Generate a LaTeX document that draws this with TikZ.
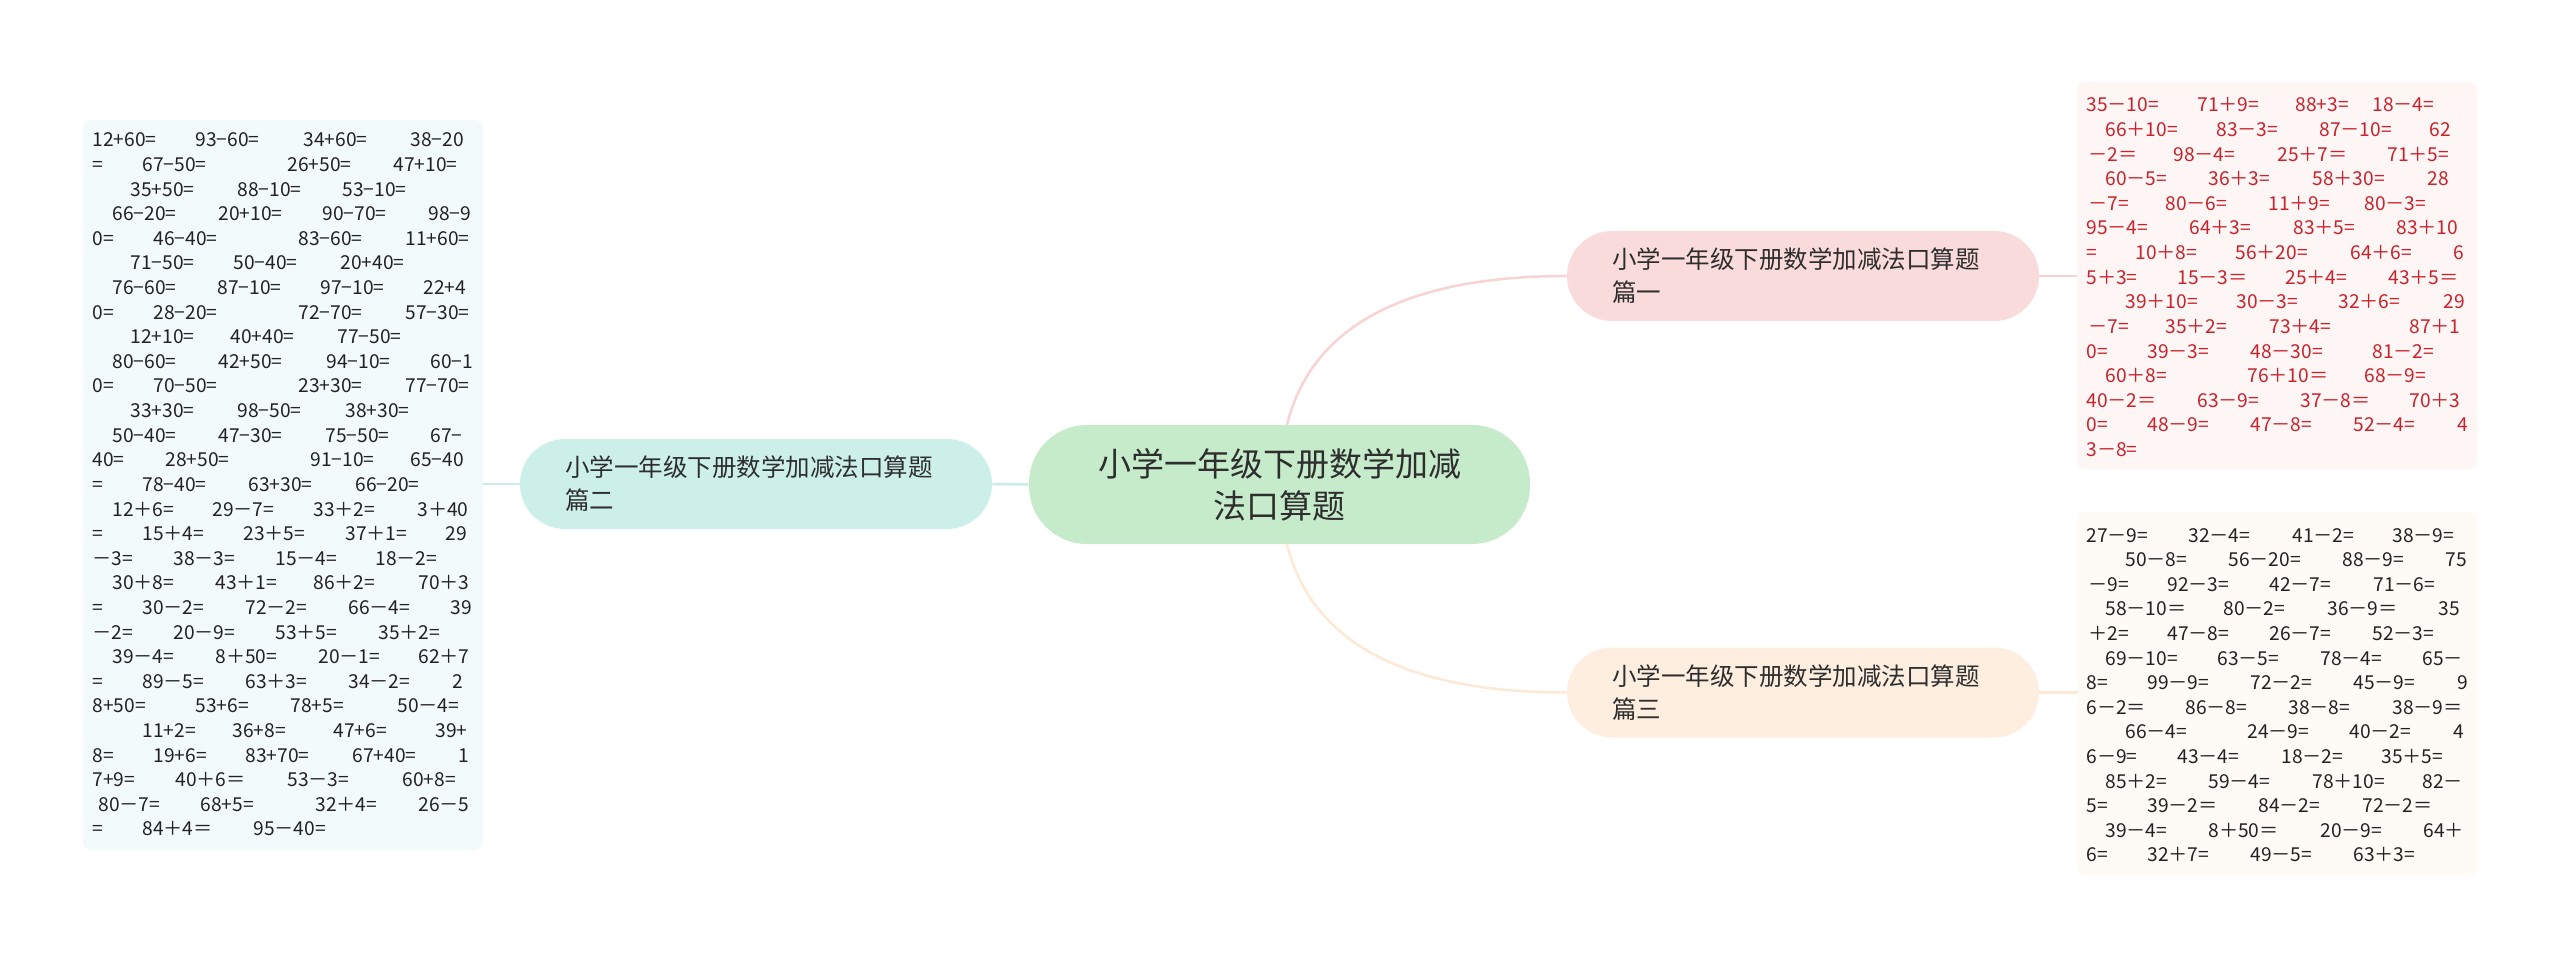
\documentclass[tikz,border=0pt]{standalone}
\usepackage{fontspec}
\setmainfont{Noto Sans CJK SC}
\newfontfamily\cjk{Noto Sans CJK SC}
\definecolor{cgreen}{HTML}{C6EBCB}
\definecolor{cteal}{HTML}{CDEFEA}
\definecolor{cpink}{HTML}{FADBDB}
\definecolor{cpeach}{HTML}{FDEEDF}
\definecolor{bteal}{HTML}{F3FAFB}
\definecolor{bpink}{HTML}{FEF5F5}
\definecolor{bpeach}{HTML}{FEFBF6}
\definecolor{lteal}{HTML}{C9EEE6}
\definecolor{lpink}{HTML}{F7D3D3}
\definecolor{lpeach}{HTML}{FDE9D5}
\definecolor{tred}{HTML}{C8232C}
\definecolor{tdark}{HTML}{222222}
\definecolor{ndark}{HTML}{2E2E2E}
\newcommand\tline[4]{%
  \foreach \xx/\tx [count=\k] in {#4} {%
    \node[tok, anchor=base west] (#1-#3-\k) at (\xx, {#2+(#3-1)*24.6}) {\tx};}}
\begin{document}
\begin{tikzpicture}[x=0.5pt, y=-0.5pt,
  tok/.style={inner sep=0pt, font=\cjk\fontsize{9.6}{11}\selectfont, text=tdark},
  rootnode/.style={fill=cgreen, rounded corners=29pt, minimum width=250.5pt, minimum height=59.5pt,
    align=center, text=ndark, font=\cjk\fontsize{16.5}{21}\selectfont, inner sep=0pt},
  branch/.style={rounded corners=22.5pt, minimum width=236pt, minimum height=45pt,
    text width=191pt, inner xsep=22.5pt, inner ysep=0pt, align=left, text=ndark,
    font=\cjk\fontsize{12.25}{16.5}\selectfont},
  tbox/.style={rounded corners=4pt, minimum width=200pt, inner sep=0pt},
  conn/.style={line width=1.25pt}
]
\fill[white] (0,0) rectangle (2560,957);
\useasboundingbox (0,0) rectangle (2560,957);

% text boxes
\node[tbox, fill=bteal, minimum height=365pt] (lbox) at (283,485) {};
\node[tbox, fill=bpink, minimum height=193.5pt] (tbox) at (2277,275.5) {};
\node[tbox, fill=bpeach, minimum height=182pt] (bbox) at (2277,694) {};

% main nodes
\node[rootnode] (root) at (1279.5,484.5) {小学一年级下册数学加减\\法口算题};
\node[branch, fill=cteal] (lnode) at (756,484) {小学一年级下册数学加减法口算题\\篇二};
\node[branch, fill=cpink] (tnode) at (1803,276) {小学一年级下册数学加减法口算题\\篇一};
\node[branch, fill=cpeach] (bnode) at (1803,692.5) {小学一年级下册数学加减法口算题\\篇三};

% connectors
\coordinate (rtop) at (1287,425);
\coordinate (rbot) at (1287,544);
\draw[conn, lteal] (root.west) -- (lnode.east);
\draw[conn, lteal] (lnode.west) -- (lnode.west -| lbox.east);
\draw[conn, lpink] (rtop) .. controls (1310,330) and (1400,276) .. (tnode.west);
\draw[conn, lpeach] (rbot) .. controls (1310,639) and (1400,692.5) .. (bnode.west);
\draw[conn, lpink] (tnode.east) -- (tnode.east -| tbox.west);
\draw[conn, lpeach] (bnode.east) -- (bnode.east -| bbox.west);

% left box text
\tline{L}{147}{1}{92/12+60=, 195/93−60=, 303/34+60=, 410/38−20}
\tline{L}{147}{2}{92/=, 142/67−50=, 287/26+50=, 393/47+10=}
\tline{L}{147}{3}{130/35+50=, 237/88−10=, 342/53−10=}
\tline{L}{147}{4}{112/66−20=, 218/20+10=, 322/90−70=, 428/98−9}
\tline{L}{147}{5}{92/0=, 153/46−40=, 298/83−60=, 405/11+60=}
\tline{L}{147}{6}{130/71−50=, 233/50−40=, 340/20+40=}
\tline{L}{147}{7}{112/76−60=, 217/87−10=, 320/97−10=, 423/22+4}
\tline{L}{147}{8}{92/0=, 153/28−20=, 298/72−70=, 405/57−30=}
\tline{L}{147}{9}{130/12+10=, 230/40+40=, 337/77−50=}
\tline{L}{147}{10}{112/80−60=, 218/42+50=, 326/94−10=, 430/60−1}
\tline{L}{147}{11}{92/0=, 153/70−50=, 298/23+30=, 405/77−70=}
\tline{L}{147}{12}{130/33+30=, 237/98−50=, 345/38+30=}
\tline{L}{147}{13}{112/50−40=, 218/47−30=, 325/75−50=, 430/67−}
\tline{L}{147}{14}{92/40=, 165/28+50=, 310/91−10=, 410/65−40}
\tline{L}{147}{15}{92/=, 142/78−40=, 248/63+30=, 355/66−20=}
\tline{L}{147}{16}{112/12＋6=, 212/29－7=, 313/33＋2=, 417/3＋40}
\tline{L}{147}{17}{92/=, 142/15＋4=, 243/23＋5=, 345/37＋1=, 445/29}
\tline{L}{147}{18}{92/－3=, 173/38－3=, 275/15－4=, 375/18－2=}
\tline{L}{147}{19}{112/30＋8=, 215/43＋1=, 313/86＋2=, 418/70＋3}
\tline{L}{147}{20}{92/=, 142/30－2=, 245/72－2=, 348/66－4=, 450/39}
\tline{L}{147}{21}{92/－2=, 173/20－9=, 275/53＋5=, 378/35＋2=}
\tline{L}{147}{22}{112/39－4=, 215/8＋50=, 318/20－1=, 418/62＋7}
\tline{L}{147}{23}{92/=, 142/89－5=, 245/63＋3=, 348/34－2=, 452/2}
\tline{L}{147}{24}{92/8+50=, 195/53+6=, 290/78+5=, 397/50－4=}
\tline{L}{147}{25}{142/11+2=, 232/36+8=, 333/47+6=, 435/39+}
\tline{L}{147}{26}{92/8=, 153/19+6=, 245/83+70=, 352/67+40=, 458/1}
\tline{L}{147}{27}{92/7+9=, 175/40＋6＝, 287/53－3=, 402/60+8=}
\tline{L}{147}{28}{98/80－7=, 200/68+5=, 315/32＋4=, 418/26－5}
\tline{L}{147}{29}{92/=, 142/84＋4＝, 253/95－40=}

% top right box text
\begin{scope}[tok/.append style={text=tred}]
\tline{T}{112}{1}{2086/35－10=, 2197/71＋9=, 2295/88+3=, 2372/18－4=}
\tline{T}{112}{2}{2105/66＋10=, 2216/83－3=, 2319/87－10=, 2429/62}
\tline{T}{112}{3}{2088/－2＝, 2173/98－4=, 2277/25＋7＝, 2387/71＋5=}
\tline{T}{112}{4}{2105/60－5=, 2208/36＋3=, 2312/58＋30=, 2427/28}
\tline{T}{112}{5}{2088/－7=, 2165/80－6=, 2268/11＋9=, 2364/80－3=}
\tline{T}{112}{6}{2086/95－4=, 2189/64＋3=, 2293/83＋5=, 2396/83＋10}
\tline{T}{112}{7}{2086/=, 2135/10＋8=, 2235/56＋20=, 2350/64＋6=, 2453/6}
\tline{T}{112}{8}{2086/5＋3=, 2177/15－3＝, 2285/25＋4=, 2388/43＋5＝}
\tline{T}{112}{9}{2125/39＋10=, 2236/30－3=, 2338/32＋6=, 2443/29}
\tline{T}{112}{10}{2088/－7=, 2165/35＋2=, 2269/73＋4=, 2409/87＋1}
\tline{T}{112}{11}{2086/0=, 2147/39－3=, 2250/48－30=, 2372/81－2=}
\tline{T}{112}{12}{2105/60＋8=, 2247/76＋10＝, 2364/68－9=}
\tline{T}{112}{13}{2086/40－2＝, 2197/63－9=, 2300/37－8＝, 2409/70＋3}
\tline{T}{112}{14}{2086/0=, 2147/48－9=, 2250/47－8=, 2353/52－4=, 2457/4}
\tline{T}{112}{15}{2086/3－8=}
\end{scope}

% bottom right box text
\tline{B}{542}{1}{2086/27－9=, 2188/32－4=, 2292/41－2=, 2392/38－9=}
\tline{B}{542}{2}{2125/50－8=, 2228/56－20=, 2342/88－9=, 2445/75}
\tline{B}{542}{3}{2088/－9=, 2167/92－3=, 2269/42－7=, 2373/71－6=}
\tline{B}{542}{4}{2105/58－10＝, 2223/80－2=, 2327/36－9＝, 2438/35}
\tline{B}{542}{5}{2088/＋2=, 2167/47－8=, 2269/26－7=, 2372/52－3=}
\tline{B}{542}{6}{2105/69－10=, 2217/63－5=, 2320/78－4=, 2422/65－}
\tline{B}{542}{7}{2086/8=, 2147/99－9=, 2250/72－2=, 2353/45－9=, 2457/9}
\tline{B}{542}{8}{2086/6－2＝, 2185/86－8=, 2288/38－8=, 2392/38－9＝}
\tline{B}{542}{9}{2125/66－4=, 2247/24－9=, 2349/40－2=, 2453/4}
\tline{B}{542}{10}{2086/6－9=, 2177/43－4=, 2281/18－2=, 2381/35＋5=}
\tline{B}{542}{11}{2105/85＋2=, 2208/59－4=, 2312/78＋10=, 2422/82－}
\tline{B}{542}{12}{2086/5=, 2147/39－2＝, 2258/84－2=, 2362/72－2＝}
\tline{B}{542}{13}{2105/39－4=, 2208/8＋50＝, 2320/20－9=, 2423/64＋}
\tline{B}{542}{14}{2086/6=, 2147/32＋7=, 2250/49－5=, 2353/63＋3=}
\end{tikzpicture}
\end{document}
